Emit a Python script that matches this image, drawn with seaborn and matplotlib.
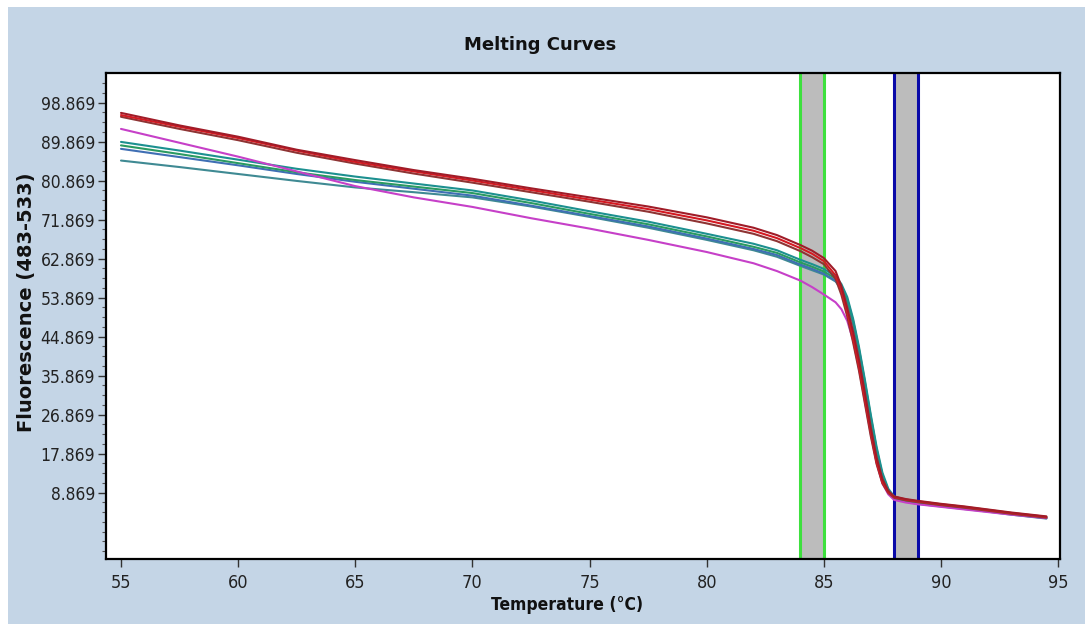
import numpy as np
import pandas as pd
import matplotlib
matplotlib.use("Agg")
import matplotlib.pyplot as plt
import seaborn as sns
from matplotlib import font_manager as fm
from matplotlib.ticker import FixedLocator, FormatStrFormatter

# ---------------- data ----------------
temps = [55, 57.5, 60, 62.5, 65, 67.5, 70, 72.5, 75, 77.5, 80, 82, 83, 84, 84.5, 85,
         85.5, 85.75, 86, 86.25, 86.5, 86.75, 87, 87.25, 87.5, 87.75, 88, 88.5, 89,
         90, 91, 92, 93, 94.5]

dark_red = [96.5, 93.6, 91.0, 88.0, 85.6, 83.3, 81.3, 79.1, 77.0, 74.9, 72.4, 70.0, 68.3, 66.0, 64.7, 63.0,
            60.0, 56.5, 51.5, 46.0, 39.5, 32.0, 24.0, 17.0, 12.0, 9.3, 8.0, 7.4, 7.0,
            6.3, 5.7, 5.0, 4.3, 3.4]
red = [96.0, 93.3, 90.7, 87.8, 85.2, 83.0, 80.9, 78.7, 76.5, 74.3, 71.7, 69.3, 67.6, 65.3, 64.0, 62.3,
       59.0, 55.5, 50.5, 44.5, 38.0, 30.5, 23.0, 16.0, 11.3, 9.0, 7.9, 7.3, 6.9,
       6.2, 5.6, 4.9, 4.2, 3.3]
brown = [95.6, 92.8, 90.2, 87.3, 84.8, 82.5, 80.4, 78.2, 76.0, 73.7, 71.0, 68.6, 66.9, 64.6, 63.2, 61.6,
         58.2, 54.5, 49.5, 43.5, 37.0, 29.5, 22.0, 15.5, 11.0, 8.8, 7.7, 7.1, 6.7,
         6.0, 5.4, 4.7, 4.0, 3.1]
magenta = [92.8, 89.6, 86.4, 83.0, 79.6, 77.0, 74.8, 72.2, 69.8, 67.2, 64.4, 61.8, 60.0, 57.8, 56.3, 54.6,
           52.8, 51.2, 48.5, 44.0, 37.5, 30.0, 22.5, 15.8, 11.0, 8.5, 7.2, 6.6, 6.2,
           5.6, 5.0, 4.4, 3.8, 3.0]
teal = [89.8, 87.8, 85.7, 83.6, 81.8, 80.2, 78.6, 76.3, 73.8, 71.4, 68.6, 66.3, 64.8, 62.6, 61.6, 60.5,
        58.8, 57.0, 54.0, 49.0, 42.5, 35.0, 27.0, 19.5, 13.5, 9.8, 8.0, 7.2, 6.7,
        6.0, 5.4, 4.8, 4.1, 3.2]
green = [89.0, 87.0, 84.9, 82.8, 81.0, 79.5, 78.0, 75.7, 73.2, 70.8, 68.0, 65.6, 64.2, 62.0, 61.0, 59.9,
         58.3, 56.5, 53.5, 48.5, 42.0, 34.5, 26.5, 19.0, 13.0, 9.5, 7.8, 7.0, 6.5,
         5.9, 5.3, 4.7, 4.0, 3.1]
blue_teal = [88.2, 86.3, 84.4, 82.4, 80.6, 79.0, 77.4, 75.1, 72.7, 70.3, 67.5, 65.1, 63.7, 61.5, 60.5, 59.4,
             57.8, 56.0, 53.0, 48.0, 41.5, 34.0, 26.0, 18.5, 12.8, 9.3, 7.7, 6.9, 6.4,
             5.8, 5.2, 4.6, 3.9, 3.0]
gray_teal = [85.5, 84.0, 82.4, 80.8, 79.3, 78.2, 77.0, 74.9, 72.5, 70.0, 67.2, 64.8, 63.3, 61.2, 60.2, 59.2,
             57.6, 55.8, 52.8, 47.8, 41.2, 33.8, 25.8, 18.3, 12.6, 9.2, 7.6, 6.8, 6.3,
             5.7, 5.1, 4.5, 3.8, 2.9]

series = {
    "gray_teal": gray_teal, "blue_teal": blue_teal, "green": green, "teal": teal,
    "magenta": magenta, "brown": brown, "red": red, "dark_red": dark_red,
}
colors = {
    "gray_teal": "#3f8a93", "blue_teal": "#3f6fb4", "green": "#2a9a62", "teal": "#1c9090",
    "magenta": "#c640c8", "brown": "#8e3434", "red": "#d41a22", "dark_red": "#a01c28",
}

green_cursors = [84, 85]
blue_cursors = [88, 89]
ytick_vals = [8.869, 17.869, 26.869, 35.869, 44.869, 53.869, 62.869, 71.869, 80.869, 89.869, 98.869]
xtick_vals = [55, 60, 65, 70, 75, 80, 85, 90, 95]

df = pd.concat([pd.DataFrame({"Temperature": temps, "Fluorescence": v, "sample": k})
                for k, v in series.items()], ignore_index=True)

# ---------------- style ----------------
sns.set_style("ticks")
plt.rcParams["font.family"] = ["DejaVu Sans"]
has_condensed = any(f.name == "DejaVu Sans" and f.stretch == "condensed"
                    for f in fm.fontManager.ttflist)
stretch = "condensed" if has_condensed else "normal"

fig = plt.figure(figsize=(10.85, 6.24), dpi=100, facecolor="white")
bg = fig.add_axes([8 / 1085, 0, 1 - 8 / 1085, 1 - 7 / 624], zorder=-10)
bg.set_facecolor("#c4d5e6")
bg.set_xticks([])
bg.set_yticks([])
for s in bg.spines.values():
    s.set_visible(False)

ax = fig.add_axes([106 / 1085, 65 / 624, 954 / 1085, 486 / 624], zorder=1)
ax.set_facecolor("white")

for xs, c in [(green_cursors, "#3ee03e"), (blue_cursors, "#0a0aa8")]:
    ax.axvspan(xs[0], xs[1], color="#bcbcbc", zorder=1, lw=0)
    for x in xs:
        ax.axvline(x, color=c, lw=2.2, zorder=2)

sns.lineplot(data=df, x="Temperature", y="Fluorescence", hue="sample", palette=colors,
             estimator=None, sort=False, legend=False, lw=1.5, ax=ax, zorder=3)

ax.set_xlim(54.36, 95.08)
ax.set_ylim(-6.43, 105.7)
ax.xaxis.set_major_locator(FixedLocator(xtick_vals))
ax.yaxis.set_major_locator(FixedLocator(ytick_vals))
ax.yaxis.set_minor_locator(FixedLocator(np.arange(-4.631, 105.5, 2.25)))
ax.yaxis.set_major_formatter(FormatStrFormatter("%.3f"))

tick_size = 12.5 if has_condensed else 11
ax.tick_params(axis="both", which="major", length=6, width=1, color="#333333",
               direction="out", pad=2, labelsize=tick_size, labelcolor="#222222")
ax.tick_params(axis="x", which="major", pad=5, labelsize=tick_size + 0.5)
ax.tick_params(axis="y", which="minor", length=3, width=0.8, color="#555555", direction="out")
for lab in ax.get_xticklabels() + ax.get_yticklabels():
    lab.set_fontstretch(stretch)

for s in ax.spines.values():
    s.set_linewidth(1.6)
    s.set_color("black")
    s.set_visible(True)

ax.set_xlabel("Temperature (°C)", fontsize=12.5 if has_condensed else 10.5,
              fontweight="bold", fontstretch=stretch, color="#111111")
ax.xaxis.set_label_coords((567 - 106) / 954, -(596 - 559) / 486)
ax.set_ylabel("Fluorescence (483-533)", fontsize=14, fontweight="bold", color="#111111")
ax.yaxis.set_label_coords((36 - 106) / 954, (559 - 302) / 486)

fig.text(540 / 1085, 1 - 45 / 624, "Melting Curves", ha="center", va="center",
         fontsize=13, fontweight="bold", color="#111111")

fig.savefig("out.png", dpi=100, facecolor=fig.get_facecolor())
